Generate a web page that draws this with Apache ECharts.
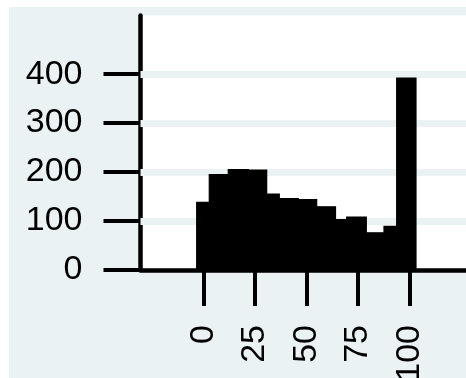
<!DOCTYPE html>
<html>
<head>
<meta charset="utf-8">
<style>
  html, body { margin: 0; padding: 0; background: #ffffff; }
  #chart { width: 466px; height: 378px; }
</style>
<script src="https://cdn.jsdelivr.net/npm/echarts@6/dist/echarts.min.js"></script>
</head>
<body>
<div id="chart"></div>
<script>
// Histogram bins: lower edge, upper edge, frequency
const binLo  = [-3.25, 2.86, 12.09, 21.80, 30.73, 36.84, 46.07, 55.00, 64.13, 69.56, 79.08, 87.67, 93.83];
const binHi  = [ 2.86, 12.09, 21.80, 30.73, 36.84, 46.07, 55.00, 64.13, 69.56, 79.08, 87.67, 93.83, 103.2];
const counts = [138, 195, 205, 204, 155, 146, 144, 129, 103, 108, 76, 89, 392];

// Axis tick values
const xTicks = [0, 25, 50, 75, 100];
const yTicks = [0, 100, 200, 300, 400];
const gridValues = [100, 200, 300, 400];

const BG = '#eaf2f3';
const FONT = '"Liberation Sans", Arial, sans-serif';

const chart = echarts.init(document.getElementById('chart'), null, { renderer: 'canvas' });

const barData = counts.map((c, i) => [binLo[i], binHi[i], c]);

chart.setOption({
  backgroundColor: '#ffffff',
  animation: false,
  graphic: [{
    type: 'rect',
    z: -10,
    shape: { x: 9, y: 7, width: 466 - 9, height: 378 - 7 },
    style: { fill: BG },
    silent: true
  }],
  grid: {
    left: 140.5, right: 0, top: 15.4, bottom: 108,
    outerBoundsMode: 'none',
    containLabel: false,
    show: true, backgroundColor: '#ffffff', borderWidth: 0
  },
  xAxis: {
    type: 'value',
    min: -30.53, max: 127.48,
    axisLine: { show: true, onZero: false, lineStyle: { color: '#000', width: 4.5 } },
    axisTick: { show: true, length: 36, customValues: xTicks, lineStyle: { color: '#000', width: 4 } },
    axisLabel: {
      show: true, customValues: xTicks, rotate: 90, margin: 55,
      color: '#000', fontSize: 34, fontFamily: FONT
    },
    splitLine: { show: false }
  },
  yAxis: {
    type: 'value',
    min: 0, max: 520,
    axisLine: { show: true, onZero: false, lineStyle: { color: '#000', width: 4.5 } },
    axisTick: { show: true, length: 37, customValues: yTicks, lineStyle: { color: '#000', width: 4 } },
    axisLabel: {
      show: true, customValues: yTicks, margin: 58,
      color: '#000', fontSize: 34, fontFamily: FONT
    },
    splitLine: { show: false }
  },
  series: [{
    type: 'custom',
    z: 2,
    data: barData,
    renderItem: function (params, api) {
      const p0 = api.coord([api.value(0), api.value(2)]);
      const p1 = api.coord([api.value(1), 0]);
      return {
        type: 'rect',
        shape: { x: p0[0], y: p0[1], width: p1[0] - p0[0], height: p1[1] - p0[1] },
        style: { fill: '#000', stroke: '#000', lineWidth: 1.2 }
      };
    },
    markLine: {
      z: 1,
      silent: true,
      symbol: ['none', 'none'],
      label: { show: false },
      lineStyle: { color: BG, width: 7, type: 'solid' },
      data: gridValues.map(v => ({ yAxis: v }))
    }
  }]
});
</script>
</body>
</html>
